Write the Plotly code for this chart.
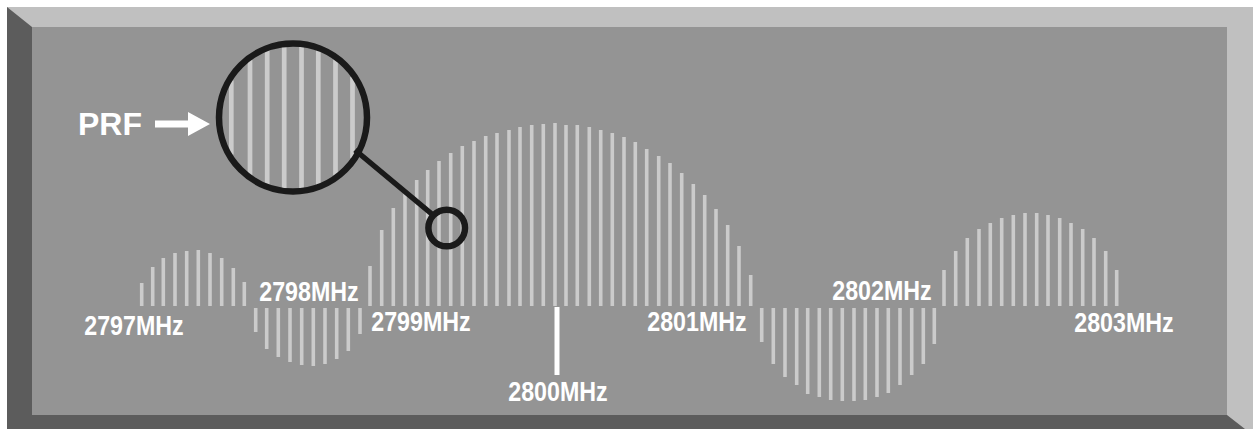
import math
import plotly.graph_objects as go

# ---------------- data ----------------
# spectral line positions (x, px) and amplitudes (px above / below the baseline)
lobe1_x = [141.7, 152.7, 163.3, 175, 186.7, 198.3, 210, 221.7, 233.3, 244.3]
lobe1_amp = [23, 39, 48, 53, 55, 56, 53, 48, 38, 24]

lobe2_x = [255.7, 266.7, 278.3, 290, 301.7, 313.3, 325, 336.7, 348.3, 360]
lobe2_amp = [-24, -41, -49, -54, -57, -58, -56, -51, -43, -26]

main_x = [370, 381.7, 393.3, 405, 416.7, 427.7, 439, 450.7, 462.3, 474, 485.7, 497,
          509, 520, 531.7, 543.3, 555, 566, 577.3, 589.3, 600.7, 612.3, 624, 635.3,
          646.7, 658.7, 670, 681.7, 693.3, 704.7, 716, 727.7, 739, 750.7]
main_amp = [40, 76, 98, 113, 126, 136, 145, 153, 160, 165, 170, 173, 176, 179, 181,
            182, 183, 181, 181, 179, 176, 173, 169, 164, 157, 150, 143, 133, 122,
            111, 97, 81, 60, 31]

lobe4_x = [761.7, 773.3, 785, 796.7, 807.7, 819.3, 830.7, 842.3, 854, 865.3, 877,
           888.3, 900, 911.7, 923.3, 934.3]
lobe4_amp = [-34, -56, -69, -77, -86, -89, -92, -93, -93, -92, -89, -85, -77, -67,
             -56, -36]

lobe5_x = [944, 955.7, 967.3, 979, 990.3, 1001.7, 1013.3, 1025, 1036.7, 1048, 1059.7,
           1071, 1082.7, 1094, 1105.7, 1116.7]
lobe5_amp = [36, 55, 68, 77, 83, 88, 91, 93, 93, 91, 88, 83, 77, 68, 55, 36]

freq_labels = ["2797MHz", "2798MHz", "2799MHz", "2800MHz", "2801MHz", "2802MHz", "2803MHz"]
label_x = [134, 308.5, 421.3, 558.3, 696.5, 881.7, 1124]
label_y = [325.5, 291, 321.7, 391, 321.5, 290, 322.7]

# lines seen through the magnifying glass
magnified_x = [231.3, 250, 267.2, 284.2, 301.5, 318.3, 335.5, 352.5]

# ---------------- styling ----------------
W, H = 1253, 429
BASE_UP = 306      # baseline (px) for lobes above
BASE_DOWN = 308    # baseline (px) for lobes below
PANEL = "#949494"
LINE = "#cbcbcb"
LIGHT = "#c0c0c0"
DARK = "#5c5c5c"
INK = "#1a1a1a"
LABEL_FONT = "Liberation Sans, Arial, sans-serif"

fig = go.Figure()

for xs, amps in [(lobe1_x, lobe1_amp), (lobe2_x, lobe2_amp), (main_x, main_amp),
                 (lobe4_x, lobe4_amp), (lobe5_x, lobe5_amp)]:
    base = BASE_UP if amps[0] > 0 else BASE_DOWN
    fig.add_trace(go.Bar(
        x=xs, y=[-a for a in amps], base=base, width=3.6,
        marker=dict(color=LINE, line=dict(width=0)),
        hoverinfo="skip", showlegend=False,
    ))

shapes = []
# bevelled frame
shapes.append(dict(type="rect", x0=7, y0=7, x1=1260, y1=440, fillcolor=LIGHT,
                   line=dict(width=0), layer="below"))
shapes.append(dict(type="path", path="M7,7 L32,27 L32,415 L1227,415 L1245,429 L1245,440 L7,440 Z",
                   fillcolor=DARK, line=dict(width=0), layer="below"))
shapes.append(dict(type="rect", x0=32, y0=27, x1=1227, y1=415, fillcolor=PANEL,
                   line=dict(width=0), layer="below"))

# 2800 MHz marker
shapes.append(dict(type="line", x0=557, x1=557, y0=307, y1=375,
                   line=dict(color="white", width=5)))

# PRF arrow
shapes.append(dict(type="path",
                   path="M155,120.5 L188,120.5 L188,112 L210,124 L188,136 L188,127.5 L155,127.5 Z",
                   fillcolor="white", line=dict(width=0)))

# magnifier: lines inside big circle
cx, cy, r_in = 293, 117.5, 72
for mx in magnified_x:
    d = math.sqrt(max(r_in ** 2 - (mx - cx) ** 2, 0))
    shapes.append(dict(type="line", x0=mx, x1=mx, y0=cy - d, y1=cy + d,
                       line=dict(color=LINE, width=4.7)))
# big circle
R = 74
shapes.append(dict(type="circle", x0=cx - R, x1=cx + R, y0=cy - R, y1=cy + R,
                   line=dict(color=INK, width=6.5)))
# handle
shapes.append(dict(type="line", x0=355, y0=150, x1=433, y1=215,
                   line=dict(color=INK, width=5.5)))
# small circle
sx, sy, sr = 446.7, 228, 18.3
shapes.append(dict(type="circle", x0=sx - sr, x1=sx + sr, y0=sy - sr, y1=sy + sr,
                   line=dict(color=INK, width=6.5)))

annotations = []
for t, x, y in zip(freq_labels, label_x, label_y):
    annotations.append(dict(x=x, y=y, xref="x", yref="y", text="<b>" + t + "</b>",
                            showarrow=False, xanchor="center", yanchor="middle",
                            font=dict(family=LABEL_FONT, size=28, color="white")))
annotations.append(dict(x=110, y=124, xref="x", yref="y", text="<b>PRF</b>",
                        showarrow=False, xanchor="center", yanchor="middle",
                        font=dict(family="Liberation Sans, Arial, sans-serif", size=32,
                                  color="white")))

fig.update_layout(
    width=W, height=H,
    margin=dict(l=0, r=0, t=0, b=0),
    paper_bgcolor="white", plot_bgcolor="white",
    barmode="overlay",
    shapes=shapes, annotations=annotations,
    xaxis=dict(range=[0, W], visible=False, fixedrange=True),
    yaxis=dict(range=[H, 0], visible=False, fixedrange=True),
    showlegend=False,
)

# remove the default page margin and condense the frequency labels (narrow bold face)
post = """
document.body.style.margin = '0';
var gd = document.getElementsByClassName('plotly-graph-div')[0];
gd.querySelectorAll('g.annotation').forEach(function (g) {
  var i = parseInt(g.getAttribute('data-index'));
  if (i < 7) {
    var t = g.querySelector('text.annotation-text');
    if (t) {
      t.style.transformBox = 'fill-box';
      t.style.transformOrigin = 'center';
      t.style.transform = 'scaleX(0.83)';
    }
  }
});
"""

fig.write_html("out.html", config={"displayModeBar": False}, post_script=post)
